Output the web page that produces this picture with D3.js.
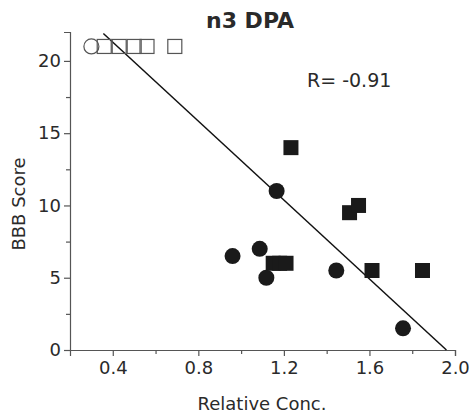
<!DOCTYPE html>
<html>
<head>
<meta charset="utf-8">
<script src="https://cdn.jsdelivr.net/npm/d3@7"></script>
<style>
  body { margin: 0; background: #fff; }
  text { font-family: "DejaVu Sans", "Liberation Sans", Arial, sans-serif; fill: #2a2a2a; }
</style>
</head>
<body>
<div id="main"></div>
<script>
const width = 472;
const height = 417;
const margin = { top: 32, right: 17, bottom: 67, left: 70 };

// open symbols (top row)
const openCircleX = [0.30];
const openCircleY = [21];
const openSquareX = [0.36, 0.43, 0.50, 0.56, 0.69];
const openSquareY = [21, 21, 21, 21, 21];

// filled symbols
const circleX = [1.166, 1.087, 0.96, 1.118, 1.445, 1.757];
const circleY = [11, 7, 6.5, 5, 5.5, 1.5];
const squareX = [1.233, 1.507, 1.549, 1.15, 1.18, 1.21, 1.612, 1.848];
const squareY = [14, 9.5, 10, 6, 6, 6, 5.5, 5.5];

// regression line end points
const fitX = [0.356, 1.96];
const fitY = [21.9, 0];

const xTicks = [0.4, 0.8, 1.2, 1.6, 2.0];
const xMinor = [0.6, 1.0, 1.4, 1.8];
const yTicks = [0, 5, 10, 15, 20];
const yMinor = [2.5, 7.5, 12.5, 17.5];

const svg = d3.select("#main").append("svg")
  .attr("width", width)
  .attr("height", height);

const x = d3.scaleLinear().domain([0.2, 2.0]).range([margin.left, width - margin.right]);
const y = d3.scaleLinear().domain([0, 22]).range([height - margin.bottom, margin.top]);

// axes
svg.append("g")
  .attr("transform", `translate(0,${y(0)})`)
  .call(d3.axisBottom(x).tickValues(xTicks).tickFormat(d3.format(".1f")).tickSizeOuter(0).tickSize(6).tickPadding(5));
svg.append("g")
  .attr("transform", `translate(0,${y(0)})`)
  .call(d3.axisBottom(x).tickValues(xMinor).tickFormat("").tickSizeOuter(0).tickSize(4))
  .select(".domain").remove();

svg.append("g")
  .attr("transform", `translate(${x(0.2)},0)`)
  .call(d3.axisLeft(y).tickValues(yTicks).tickSizeOuter(0).tickSize(6).tickPadding(3));
svg.append("g")
  .attr("transform", `translate(${x(0.2)},0)`)
  .call(d3.axisLeft(y).tickValues(yMinor).tickFormat("").tickSizeOuter(0).tickSize(4))
  .select(".domain").remove();

svg.selectAll(".domain, .tick line").attr("stroke", "#555").attr("stroke-width", 1.2);
svg.selectAll(".tick text")
  .style("font-family", "DejaVu Sans, Liberation Sans, sans-serif")
  .style("font-size", "18px")
  .attr("fill", "#333");

// regression line
svg.append("line")
  .attr("x1", x(fitX[0])).attr("y1", y(fitY[0]))
  .attr("x2", x(fitX[1])).attr("y2", y(fitY[1]))
  .attr("stroke", "#111").attr("stroke-width", 1.5);

// open symbols
const sq = 15;
svg.selectAll(".osq")
  .data(openSquareX.map((d, i) => [d, openSquareY[i]]))
  .join("rect")
  .attr("class", "osq")
  .attr("x", d => x(d[0]) - sq / 2 + 0.5)
  .attr("y", d => y(d[1]) - sq / 2 + 0.5)
  .attr("width", sq - 1).attr("height", sq - 1)
  .attr("fill", "none").attr("stroke", "#555").attr("stroke-width", 1.2);

svg.selectAll(".ocirc")
  .data(openCircleX.map((d, i) => [d, openCircleY[i]]))
  .join("circle")
  .attr("class", "ocirc")
  .attr("cx", d => x(d[0])).attr("cy", d => y(d[1]))
  .attr("r", 7.5)
  .attr("fill", "none").attr("stroke", "#555").attr("stroke-width", 1.2);

// filled symbols
svg.selectAll(".fsq")
  .data(squareX.map((d, i) => [d, squareY[i]]))
  .join("rect")
  .attr("class", "fsq")
  .attr("x", d => x(d[0]) - sq / 2)
  .attr("y", d => y(d[1]) - sq / 2)
  .attr("width", sq).attr("height", sq)
  .attr("fill", "#1a1a1a");

svg.selectAll(".fcirc")
  .data(circleX.map((d, i) => [d, circleY[i]]))
  .join("circle")
  .attr("class", "fcirc")
  .attr("cx", d => x(d[0])).attr("cy", d => y(d[1]))
  .attr("r", 8)
  .attr("fill", "#1a1a1a");

// texts
svg.append("text")
  .attr("x", 250).attr("y", 28)
  .attr("text-anchor", "middle")
  .style("font-size", "22px").style("font-weight", "bold")
  .text("n3 DPA");

svg.append("text")
  .attr("x", 307).attr("y", 87)
  .style("font-size", "19px")
  .text("R= -0.91");

svg.append("text")
  .attr("x", 262).attr("y", 410)
  .attr("text-anchor", "middle")
  .style("font-size", "18px")
  .text("Relative Conc.");

svg.append("text")
  .attr("transform", "translate(25,204) rotate(-90)")
  .attr("text-anchor", "middle")
  .style("font-size", "18px")
  .text("BBB Score");
</script>
</body>
</html>
